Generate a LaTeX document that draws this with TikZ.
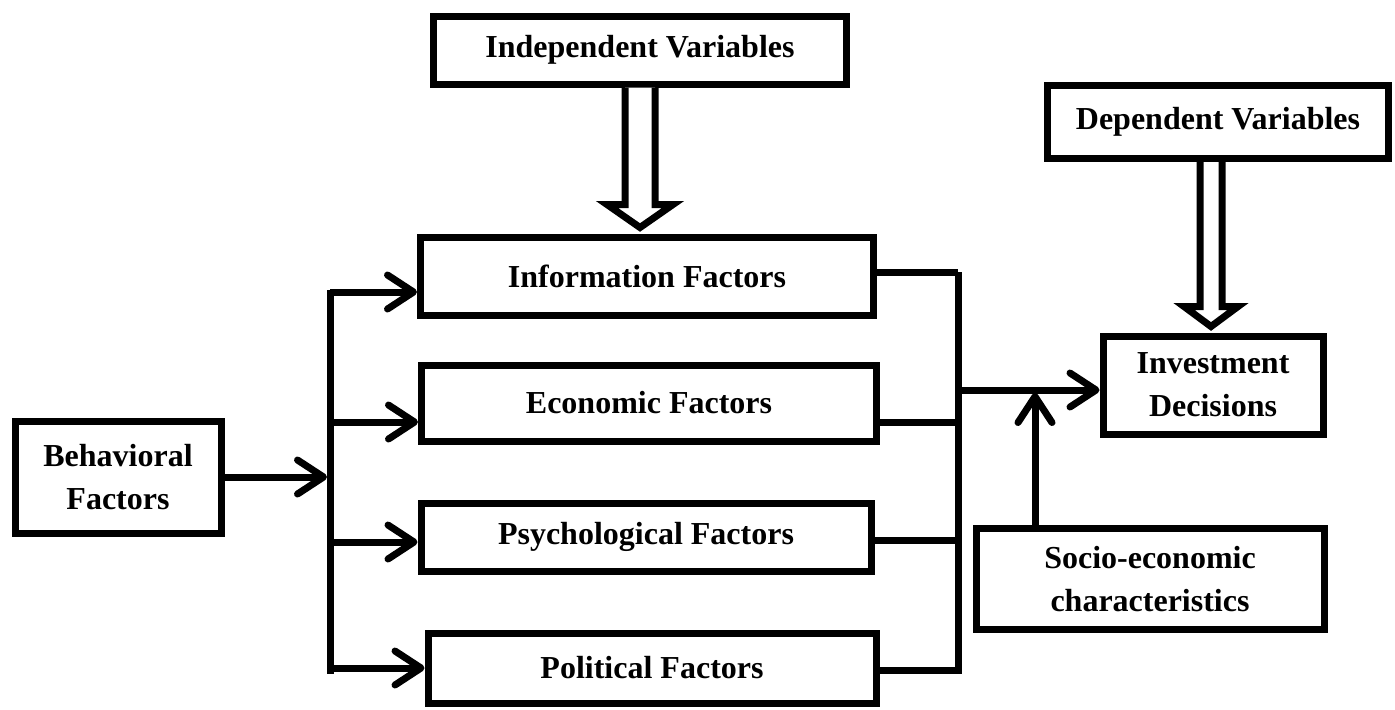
\documentclass[tikz,border=0pt]{standalone}
\usepackage{fontspec}
\setmainfont{Liberation Serif}
\usetikzlibrary{arrows.meta,calc,shadows}
\begin{document}
\begin{tikzpicture}[x=0.5pt,y=-0.5pt,
  box/.style={draw,line width=3.5pt,fill=white,inner sep=0pt,align=center,
    font=\fontsize{16}{21.5}\selectfont\bfseries,
    drop shadow={shadow xshift=1.5pt,shadow yshift=-1.5pt,opacity=0.3}},
  link/.style={line width=3.5pt},
  arr/.style={link,-{Straight Barb[length=13pt,width=17pt,round]}},
  hollow/.style={line width=3.5pt,fill=white,line join=miter}]
\useasboundingbox (0,0) rectangle (1395,709);
\node[box,minimum width=206.5pt,minimum height=34pt] (indep) at (640,50) {Independent Variables};
\node[box,minimum width=170.5pt,minimum height=36.5pt] (depend) at (1218,122) {Dependent Variables};
\node[box,minimum width=226.5pt,minimum height=39pt] (info) at (647,276) {Information Factors};
\node[box,minimum width=227.5pt,minimum height=38pt] (econ) at (649,403) {Economic Factors};
\node[box,minimum width=225pt,minimum height=34pt] (psych) at (646,537) {Psychological Factors};
\node[box,minimum width=224pt,minimum height=35pt] (polit) at (652,668) {Political Factors};
\node[box,minimum width=103pt,minimum height=56pt] (behav) at (118,477) {Behavioral\\Factors};
\node[box,minimum width=110pt,minimum height=49pt] (invest) at (1213,385) {Investment\\Decisions};
\node[box,minimum width=174pt,minimum height=50.5pt] (socio) at (1150,579) {Socio-economic\\characteristics};
\coordinate (lt) at (330,290);
\coordinate (lb) at (330,674);
\coordinate (rt) at (958,272);
\coordinate (rb) at (958,670);
\coordinate (jn) at (958,390);
\coordinate (sj) at (1035,393);
\draw[link] (lt) -- (lb);
\draw[arr] (behav.east) -- (behav.east -| 327,0);
\foreach \n/\d in {info/-8pt,econ/-9.5pt,psych/-2.5pt,polit/0pt}{
  \coordinate (\n w) at ([yshift=\d]\n.west);
  \draw[arr] (lt |- \n w) -- (\n w);
}
\foreach \n/\d in {info/2pt,econ/-9.5pt,psych/-1.5pt}{
  \coordinate (\n e) at ([yshift=\d]\n.east);
  \draw[link] (\n e) -- (rt |- \n e);
}
\draw[link] (polit.east |- rb) -- (rb) -- (rt);
\draw[arr] (jn) -- (invest.west |- jn);
\draw[arr] (socio.north -| sj) -- (sj);
\coordinate (tipa) at ($(indep.south |- info.north)+(0,-6)$);
\draw[hollow] ($(indep.south)+(-15,0)$) |- ($(tipa)+(-33,-23)$) -- (tipa)
  -- ($(tipa)+(33,-23)$) -| ($(indep.south)+(15,0)$);
\coordinate (tipb) at ($(invest.north)+(-2,-6)$);
\draw[hollow] ($(tipb |- depend.south)+(-11,0)$) |- ($(tipb)+(-27,-20)$) -- (tipb)
  -- ($(tipb)+(27,-20)$) -| ($(tipb |- depend.south)+(11,0)$);
\end{tikzpicture}
\end{document}
